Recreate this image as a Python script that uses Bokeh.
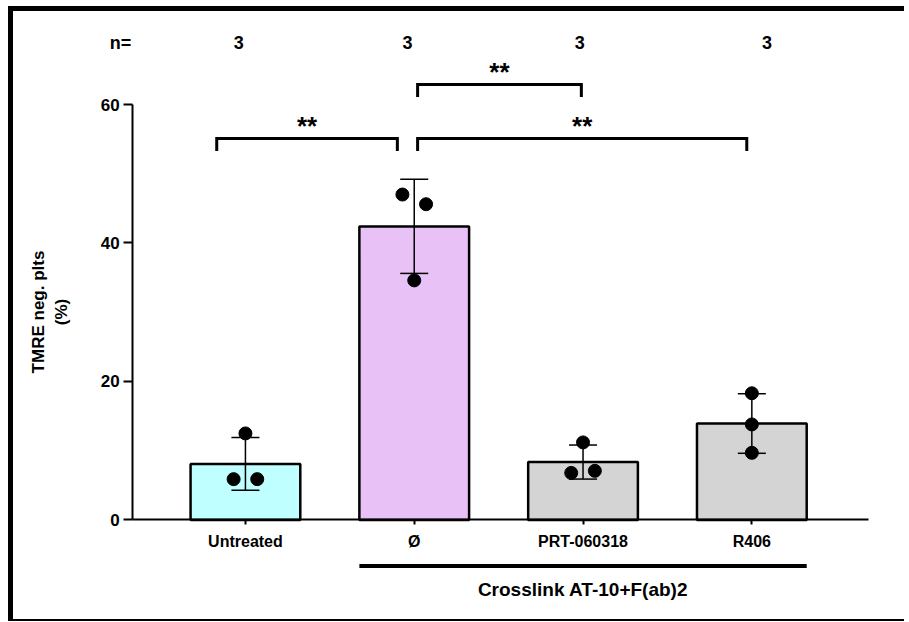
import numpy as np
from bokeh.plotting import figure
from bokeh.models import Range1d, FixedTicker, LinearAxis
from bokeh.core.properties import value
from bokeh.embed import file_html
from bokeh.resources import INLINE

# ---------------- data ----------------
categories = ["Untreated", "Ø", "PRT-060318", "R406"]
points_untreated = [12.5, 5.9, 5.9]
points_none = [47.0, 45.6, 34.6]
points_prt = [11.2, 6.8, 7.1]
points_r406 = [18.3, 13.8, 9.7]
n_values = [3, 3, 3, 3]
y_ticks = [0, 20, 40, 60]
sig_labels = ["**", "**", "**"]
group_label = "Crosslink AT-10+F(ab)2"
y_label = "TMRE neg. plts\n(%)"

# ---------------- layout / style ----------------
bar_colors = ["#BFFFFF", "#E8C2F7", "#D4D4D4", "#D4D4D4"]
jitter = [[0.0, -0.07, 0.07], [-0.07, 0.07, 0.0], [0.0, -0.07, 0.07], [0.0, 0.0, 0.0]]
n_offsets = [-0.04, -0.04, -0.02, 0.09]
FONT = value("Liberation Sans")

groups = [points_untreated, points_none, points_prt, points_r406]
idx = np.arange(len(categories))
means = np.array([np.mean(g) for g in groups])
sds = np.array([np.std(g, ddof=1) for g in groups])

p = figure(width=896, height=615, output_backend="svg", toolbar_location=None,
           x_range=Range1d(-1.374, 3.934), y_range=Range1d(-15.38, 73.43),
           min_border=0, min_border_left=0, min_border_right=0,
           min_border_top=0, min_border_bottom=0)
p.styles = {"border-left": "5px solid black", "border-top": "5px solid black",
            "border-bottom": "2px solid black", "margin-left": "8px", "margin-top": "6px"}
p.outline_line_color = None
p.xgrid.visible = False
p.ygrid.visible = False
p.xaxis.visible = False
p.yaxis.visible = False
p.background_fill_color = "white"
p.border_fill_color = "white"

# x axis at y = 0
xa = LinearAxis(fixed_location=0, bounds=(-0.668, 3.69))
xa.ticker = FixedTicker(ticks=list(idx))
xa.major_label_overrides = {int(i): c for i, c in zip(idx, categories)}
xa.minor_tick_line_color = None
xa.major_tick_in = 0
xa.major_tick_out = 5
xa.major_tick_line_width = 2
xa.major_tick_line_color = "black"
xa.axis_line_width = 2
xa.axis_line_color = "black"
xa.major_label_standoff = 8
xa.major_label_text_font = "Liberation Sans"
xa.major_label_text_font_style = "bold"
xa.major_label_text_font_size = "16px"
xa.major_label_text_color = "black"
p.add_layout(xa, "below")

# y axis at left edge of data area
ya = LinearAxis(fixed_location=-0.668, bounds=(0, 60))
ya.ticker = FixedTicker(ticks=y_ticks)
ya.minor_tick_line_color = None
ya.major_tick_in = 0
ya.major_tick_out = 9
ya.major_tick_line_width = 2
ya.major_tick_line_color = "black"
ya.axis_line_width = 2
ya.axis_line_color = "black"
ya.major_label_standoff = 4
ya.major_label_text_font = "Liberation Sans"
ya.major_label_text_font_style = "bold"
ya.major_label_text_font_size = "17px"
ya.major_label_text_color = "black"
ya.axis_label = y_label
ya.axis_label_standoff = 27
ya.axis_label_text_font = "Liberation Sans"
ya.axis_label_text_font_style = "bold"
ya.axis_label_text_font_size = "17px"
ya.axis_label_text_color = "black"
ya.axis_label_text_align = "center"
p.add_layout(ya, "left")

# bars
p.vbar(x=idx, top=means, width=0.65, fill_color=bar_colors, line_color="black", line_width=2.5)

# error bars (mean ± SD)
cap = 0.083
p.segment(x0=idx, y0=means - sds, x1=idx, y1=means + sds, line_color="black", line_width=1.5)
p.segment(x0=idx - cap, y0=means + sds, x1=idx + cap, y1=means + sds, line_color="black", line_width=1.5)
p.segment(x0=idx - cap, y0=means - sds, x1=idx + cap, y1=means - sds, line_color="black", line_width=1.5)

# individual points
px, py = [], []
for i, (g, j) in enumerate(zip(groups, jitter)):
    for v, o in zip(g, j):
        px.append(i + o)
        py.append(v)
p.scatter(px, py, size=13, color="black")

# significance brackets
br_pairs = [(-0.17, 0.90), (1.02, 1.99), (1.02, 2.97)]
br_y = [55.1, 62.9, 55.1]
leg = 1.8
xs = [[a, a, b, b] for a, b in br_pairs]
ys = [[h - leg, h, h, h - leg] for h in br_y]
p.multi_line(xs, ys, line_color="black", line_width=3, line_join="miter")
p.text(x=[(a + b) / 2 for a, b in br_pairs], y=[h + 1.8 for h in br_y], text=sig_labels,
       text_font=FONT, text_font_style="bold", text_font_size="26px",
       text_align="center", text_baseline="middle", text_color="black")

# n= row
p.text(x=[-0.74], y=[68.9], text=["n="], text_font=FONT, text_font_style="bold",
       text_font_size="18px", text_align="center", text_baseline="middle")
p.text(x=list(idx + np.array(n_offsets)), y=[68.9] * 4, text=[str(n) for n in n_values], text_font=FONT,
       text_font_style="bold", text_font_size="18px", text_align="center", text_baseline="middle")

# group line and label
p.segment(x0=[0.675], y0=[-6.63], x1=[3.325], y1=[-6.63], line_color="black", line_width=4)
p.text(x=[2.0], y=[-10.1], text=[group_label], text_font=FONT, text_font_style="bold",
       text_font_size="19px", text_align="center", text_baseline="middle")

open("out.html", "w").write(file_html(p, INLINE))
